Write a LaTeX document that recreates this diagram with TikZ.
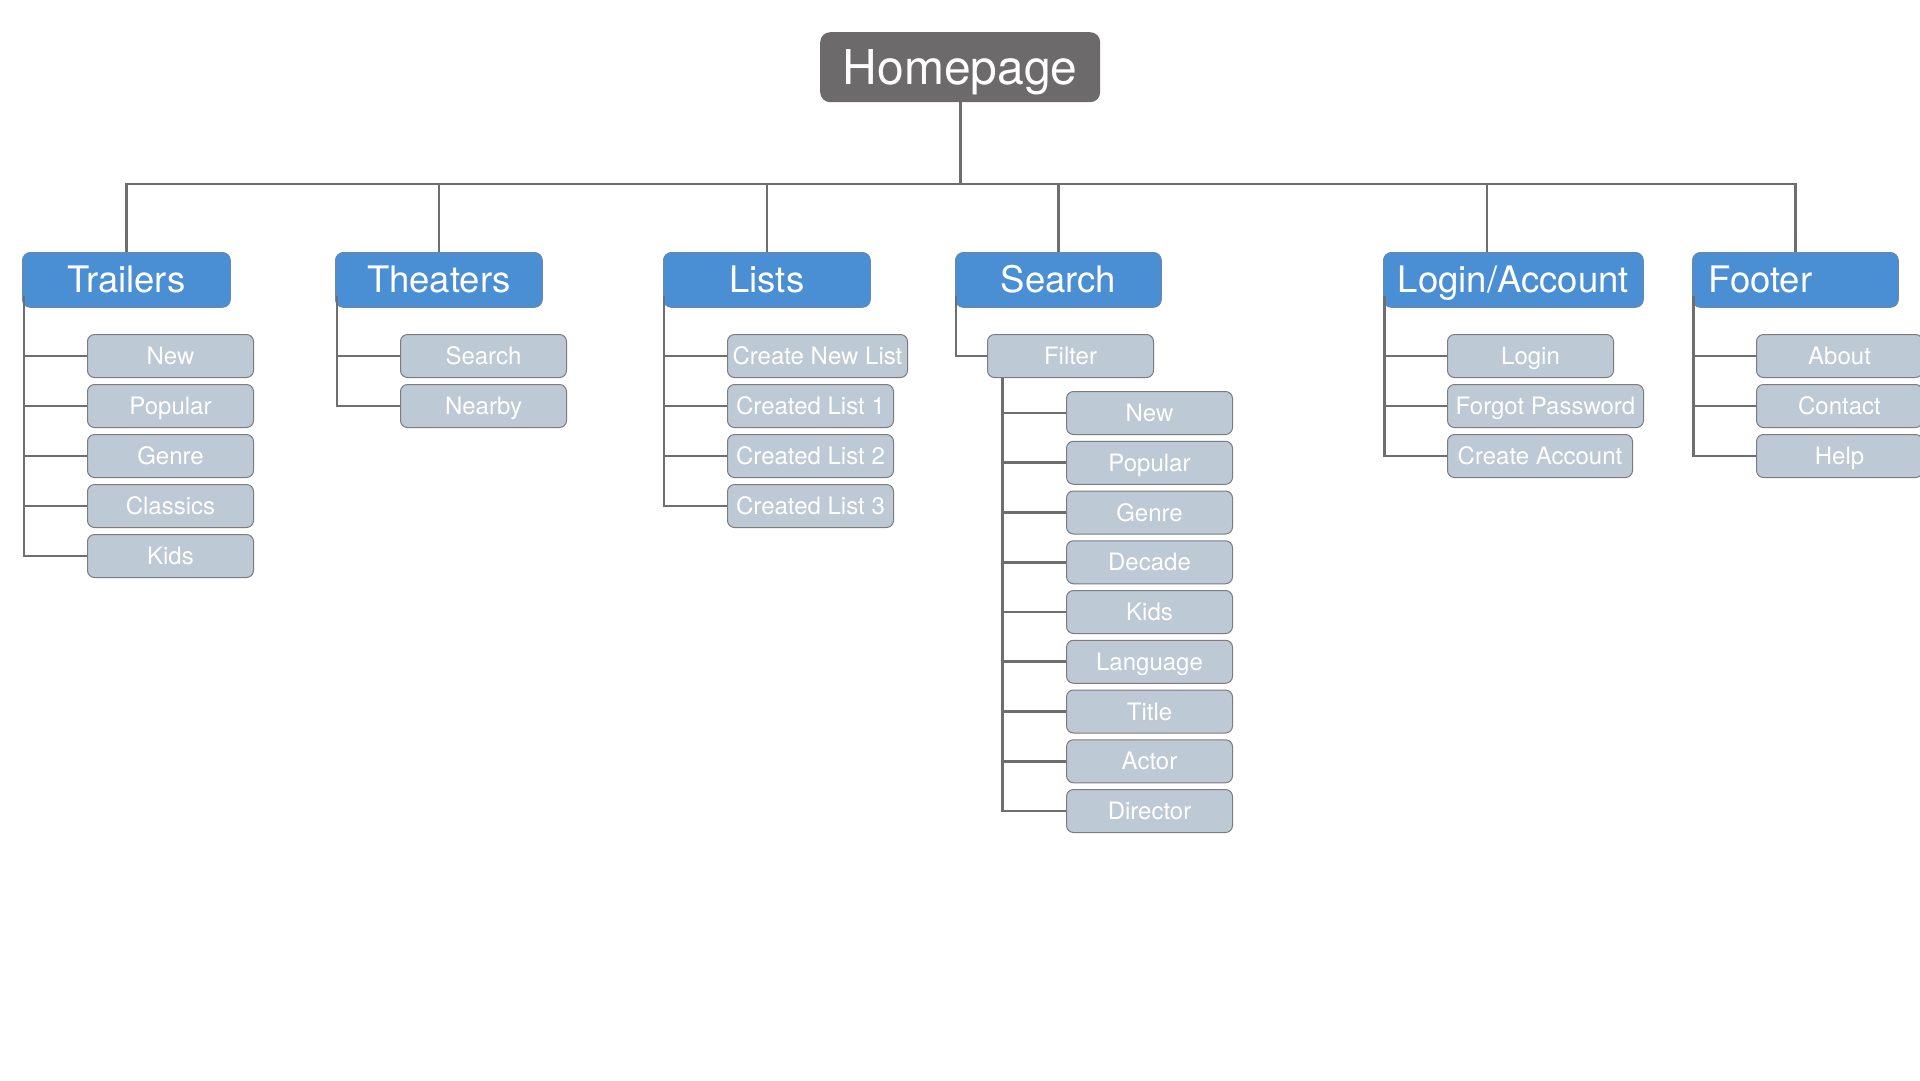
\documentclass[tikz,border=0pt]{standalone}
\usepackage{fontspec}
\setmainfont{TeX Gyre Heros}
\definecolor{homegray}{HTML}{6C6A6B}
\definecolor{catblue}{HTML}{4A8FD4}
\definecolor{catedge}{HTML}{6F87A3}
\definecolor{itemfill}{HTML}{BDC9D5}
\definecolor{itemedge}{HTML}{7C7C7C}
\definecolor{linegray}{HTML}{6E6E6E}
\begin{document}
\begin{tikzpicture}[x=1pt,y=-1pt,
  homebox/.style={fill=homegray, rounded corners=10pt, text=white, inner sep=0pt,
    font=\fontsize{48}{56}\selectfont, text height=34pt, text depth=0pt,
    minimum width=280pt, minimum height=70pt, anchor=north west},
  catbox/.style={fill=catblue, draw=catedge, line width=0.8pt, rounded corners=8pt,
    text=white, inner sep=0pt, font=\fontsize{36.5}{42}\selectfont,
    text height=26pt, text depth=0pt, minimum height=55pt, anchor=north west},
  itembox/.style={fill=itemfill, draw=itemedge, line width=1pt, rounded corners=7pt,
    text=white, inner sep=0pt, font=\fontsize{24}{28}\selectfont,
    text height=17.3pt, text depth=0pt, minimum height=43pt, minimum width=166pt,
    anchor=north west},
  link/.style={draw=linegray, line width=2.8pt}]
\useasboundingbox[fill=white] (0,0) rectangle (1920,1080);

% root
\node[homebox] (home) at (820,32) {Homepage};

% categories
\node[catbox, minimum width=208pt] (trailers) at (22,252) {Trailers};
\node[catbox, minimum width=207pt] (theaters) at (335,252) {Theaters};
\node[catbox, minimum width=207pt] (lists) at (663,252) {Lists};
\node[catbox, minimum width=206pt] (search) at (955,252) {Search};
\node[catbox, minimum width=260pt] (login) at (1383,252) {Login/Account};
\node[catbox, minimum width=206pt, text width=174pt, align=left, inner xsep=16pt] (footer) at (1692,252) {Footer};

% Trailers items
\node[itembox] (t1) at (87,334) {New};
\node[itembox] (t2) at (87,384) {Popular};
\node[itembox] (t3) at (87,434) {Genre};
\node[itembox] (t4) at (87,484) {Classics};
\node[itembox] (t5) at (87,534) {Kids};

% Theaters items
\node[itembox] (h1) at (400,334) {Search};
\node[itembox] (h2) at (400,384) {Nearby};

% Lists items
\node[itembox, minimum width=180pt] (l1) at (727,334) {Create New List};
\node[itembox] (l2) at (727,384) {Created List 1};
\node[itembox] (l3) at (727,434) {Created List 2};
\node[itembox] (l4) at (727,484) {Created List 3};

% Search / Filter
\node[itembox] (filter) at (987,334) {Filter};
\node[itembox] (f1) at (1066,391) {New};
\node[itembox] (f2) at (1066,440.75) {Popular};
\node[itembox] (f3) at (1066,490.5) {Genre};
\node[itembox] (f4) at (1066,540.25) {Decade};
\node[itembox] (f5) at (1066,590) {Kids};
\node[itembox] (f6) at (1066,639.75) {Language};
\node[itembox] (f7) at (1066,689.5) {Title};
\node[itembox] (f8) at (1066,739.25) {Actor};
\node[itembox] (f9) at (1066,789) {Director};

% Login items
\node[itembox] (g1) at (1447,334) {Login};
\node[itembox, minimum width=196pt] (g2) at (1447,384) {Forgot Password};
\node[itembox, minimum width=185pt] (g3) at (1447,434) {Create Account};

% Footer items
\node[itembox, minimum width=166pt] (o1) at (1756,334) {About};
\node[itembox, minimum width=166pt] (o2) at (1756,384) {Contact};
\node[itembox, minimum width=166pt] (o3) at (1756,434) {Help};

% top bus
\coordinate (bus) at (960,184);
\draw[link] (home.south) -- (home.south |- bus);
\draw[link] (trailers.north) -- (trailers.north |- bus) -- (footer.north |- bus) -- (footer.north);
\draw[link] (theaters.north |- bus) -- (theaters.north);
\draw[link] (lists.north |- bus) -- (lists.north);
\draw[link] (search.north |- bus) -- (search.north);
\coordinate (logindrop) at (1487,184);
\draw[link] (logindrop) -- (logindrop |- login.north);

% Trailers branches
\coordinate (tv) at ([xshift=2pt,yshift=12pt]trailers.south west);
\draw[link] (tv) |- (t5.west);
\foreach \c in {t1,t2,t3,t4} \draw[link] (tv |- \c.west) -- (\c.west);

% Theaters branches
\coordinate (hv) at ([xshift=2pt,yshift=12pt]theaters.south west);
\draw[link] (hv) |- (h2.west);
\draw[link] (hv |- h1.west) -- (h1.west);

% Lists branches
\coordinate (lv) at ([xshift=1pt,yshift=12pt]lists.south west);
\draw[link] (lv) |- (l4.west);
\foreach \c in {l1,l2,l3} \draw[link] (lv |- \c.west) -- (\c.west);

% Search branches
\coordinate (sv) at ([xshift=1pt,yshift=12pt]search.south west);
\draw[link] (sv) |- (filter.west);
\coordinate (fv) at ([xshift=15.5pt]filter.south west);
\draw[link] (fv) |- (f9.west);
\foreach \c in {f1,f2,f3,f4,f5,f6,f7,f8} \draw[link] (fv |- \c.west) -- (\c.west);

% Login branches
\coordinate (gv) at ([xshift=1.5pt,yshift=12pt]login.south west);
\draw[link] (gv) |- (g3.west);
\foreach \c in {g1,g2} \draw[link] (gv |- \c.west) -- (\c.west);

% Footer branches
\coordinate (ov) at ([xshift=1.5pt,yshift=12pt]footer.south west);
\draw[link] (ov) |- (o3.west);
\foreach \c in {o1,o2} \draw[link] (ov |- \c.west) -- (\c.west);
\end{tikzpicture}
\end{document}
